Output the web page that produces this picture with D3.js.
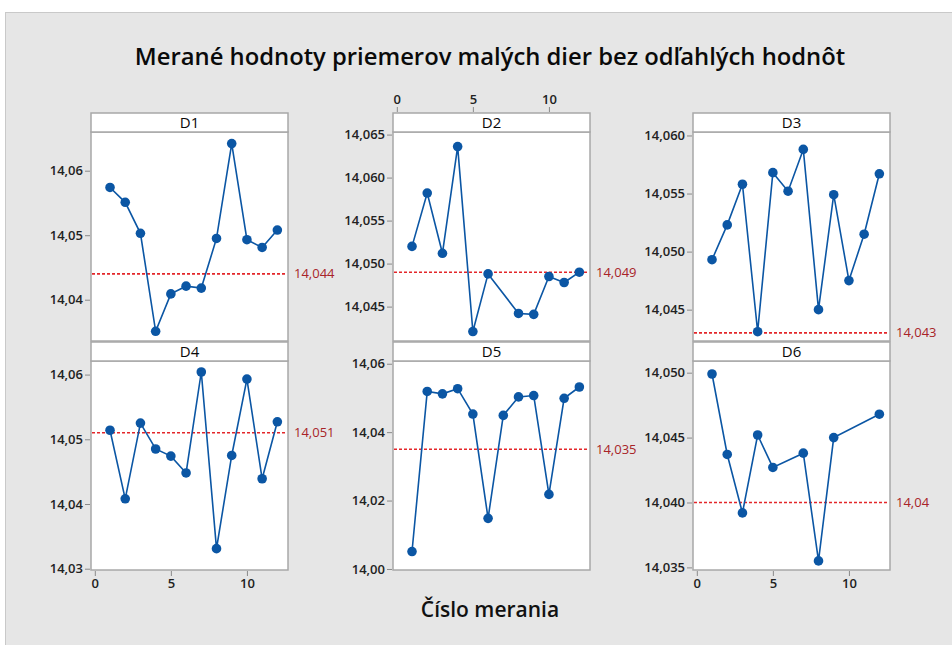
<!DOCTYPE html>
<html>
<head>
<meta charset="utf-8">
<script src="https://cdn.jsdelivr.net/npm/d3@7"></script>
<style>
  body { margin: 0; background: #fff; }
  svg { display: block; font-family: "Open Sans", "Noto Sans", sans-serif; }
</style>
</head>
<body>
<div id="chart"></div>
<script>
var panelNames = ["D1", "D2", "D3", "D4", "D5", "D6"];

var xD1 = [1, 2, 3, 4, 5, 6, 7, 8, 9, 10, 11, 12];
var yD1 = [14.0574, 14.0551, 14.0503, 14.0351, 14.0409, 14.0421, 14.0418, 14.0495, 14.0642, 14.0493, 14.0481, 14.0508];

var xD2 = [1, 2, 3, 4, 5, 6, 8, 9, 10, 11, 12];
var yD2 = [14.0520, 14.0582, 14.0512, 14.0636, 14.0421, 14.0488, 14.0442, 14.0441, 14.0485, 14.0478, 14.0490];

var xD3 = [1, 2, 3, 4, 5, 6, 7, 8, 9, 10, 11, 12];
var yD3 = [14.0493, 14.0523, 14.0558, 14.0431, 14.0568, 14.0552, 14.0588, 14.0450, 14.0549, 14.0475, 14.0515, 14.0567];

var xD4 = [1, 2, 3, 4, 5, 6, 7, 8, 9, 10, 11, 12];
var yD4 = [14.0514, 14.0408, 14.0525, 14.0485, 14.0474, 14.0448, 14.0604, 14.0331, 14.0475, 14.0593, 14.0439, 14.0527];

var xD5 = [1, 2, 3, 4, 5, 6, 7, 8, 9, 10, 11, 12];
var yD5 = [14.0051, 14.0519, 14.0512, 14.0527, 14.0453, 14.0148, 14.0449, 14.0503, 14.0507, 14.0218, 14.0499, 14.0532];

var xD6 = [1, 2, 3, 4, 5, 7, 8, 9, 12];
var yD6 = [14.0499, 14.0437, 14.0392, 14.0452, 14.0427, 14.0438, 14.0355, 14.0450, 14.0468];

// reference lines
var refValues = [14.044, 14.049, 14.043, 14.051, 14.035, 14.040];
var refLabels = ["14,044", "14,049", "14,043", "14,051", "14,035", "14,04"];

// axis ranges and ticks
var yDomains = [[14.0336, 14.0660], [14.0410, 14.0653], [14.0423, 14.0603],
                [14.0298, 14.0621], [13.9997, 14.0608], [14.0348, 14.0509]];
var yTicks = [[14.04, 14.05, 14.06],
              [14.045, 14.05, 14.055, 14.06, 14.065],
              [14.045, 14.05, 14.055, 14.06],
              [14.03, 14.04, 14.05, 14.06],
              [14.00, 14.02, 14.04, 14.06],
              [14.035, 14.04, 14.045, 14.05]];
var yDecimals = [2, 3, 3, 2, 2, 3];
var xDomain = [-0.25, 12.7];
var xTicks = [0, 5, 10];

var title = "Merané hodnoty priemerov malých dier bez odľahlých hodnôt";
var xTitle = "Číslo merania";

var xs = [xD1, xD2, xD3, xD4, xD5, xD6];
var ys = [yD1, yD2, yD3, yD4, yD5, yD6];

var W = 952, H = 645;
var colLeft = [91, 393, 693];
var panelW = 197;
var rowTop = [113, 342];      // top of strip header
var stripH = 19;
var plotH = 209;
var blue = "#0b56a4";

var svg = d3.select("#chart").append("svg")
  .attr("width", W).attr("height", H);

svg.append("rect")
  .attr("x", 5.5).attr("y", 12.5)
  .attr("width", W).attr("height", H)
  .attr("fill", "#e6e6e6").attr("stroke", "#c9c9c9");

svg.append("text")
  .attr("x", 490).attr("y", 65)
  .attr("text-anchor", "middle")
  .attr("font-size", 23.8).attr("font-weight", 600)
  .attr("fill", "#0a0a0a")
  .text(title);

svg.append("text")
  .attr("x", 490).attr("y", 617)
  .attr("text-anchor", "middle")
  .attr("font-size", 21).attr("font-weight", 600)
  .attr("fill", "#111")
  .text(xTitle);

function fmt(v, dec) {
  return v.toFixed(dec).replace(".", ",");
}

panelNames.forEach(function(name, i) {
  var col = i % 3, row = Math.floor(i / 3);
  var left = colLeft[col];
  var top = rowTop[row];
  var plotTop = top + stripH;

  var g = svg.append("g");

  var x = d3.scaleLinear().domain(xDomain).range([left, left + panelW]);
  var y = d3.scaleLinear().domain(yDomains[i]).range([plotTop + plotH, plotTop]);

  // plot area
  g.append("rect")
    .attr("x", left).attr("y", plotTop)
    .attr("width", panelW).attr("height", plotH)
    .attr("fill", "#fff").attr("stroke", "#a8a8a8").attr("stroke-width", 1.5);

  // strip header
  g.append("rect")
    .attr("x", left).attr("y", top)
    .attr("width", panelW).attr("height", stripH)
    .attr("fill", "#fff").attr("stroke", "#a8a8a8").attr("stroke-width", 1.5);
  g.append("text")
    .attr("x", left + panelW / 2).attr("y", top + 15)
    .attr("text-anchor", "middle")
    .attr("font-size", 15).attr("fill", "#0a0a0a")
    .text(name);

  // y axis
  var yAxis = d3.axisLeft(y).tickValues(yTicks[i]).tickSize(5).tickPadding(2)
    .tickFormat(function(d) { return fmt(d, yDecimals[i]); });
  var ya = g.append("g")
    .attr("transform", "translate(" + (left - 1) + ",0)")
    .call(yAxis);
  ya.select(".domain").remove();
  ya.selectAll("line").attr("stroke", "#8a8a8a");
  ya.selectAll("text").attr("font-size", 13).attr("fill", "#222")
    .attr("font-family", "Open Sans, sans-serif").attr("font-weight", 600);

  // x axis: bottom for D4 and D6, top for D2
  var xAxis = null, xPos = 0;
  if (i === 3 || i === 5) {
    xAxis = d3.axisBottom(x); xPos = plotTop + plotH + 1;
  } else if (i === 1) {
    xAxis = d3.axisTop(x); xPos = top - 1;
  }
  if (xAxis) {
    xAxis.tickValues(xTicks).tickSize(5).tickPadding(3);
    var xa = g.append("g")
      .attr("transform", "translate(0," + xPos + ")")
      .call(xAxis);
    xa.select(".domain").remove();
    xa.selectAll("line").attr("stroke", "#8a8a8a");
    xa.selectAll("text").attr("font-size", 13).attr("fill", "#222")
      .attr("font-family", "Open Sans, sans-serif").attr("font-weight", 600);
  }

  // reference line
  g.append("line")
    .attr("x1", left + 1).attr("x2", left + panelW - 1)
    .attr("y1", y(refValues[i])).attr("y2", y(refValues[i]))
    .attr("stroke", "#e3262a").attr("stroke-width", 1.6)
    .attr("stroke-dasharray", "3,2");
  g.append("text")
    .attr("x", left + panelW + 6).attr("y", y(refValues[i]) + 4.5)
    .attr("font-size", 13).attr("fill", "#a82428")
    .text(refLabels[i]);

  var pts = xs[i].map(function(v, k) { return [v, ys[i][k]]; });

  g.append("path")
    .datum(pts)
    .attr("fill", "none").attr("stroke", blue).attr("stroke-width", 1.6)
    .attr("d", d3.line().x(function(d) { return x(d[0]); }).y(function(d) { return y(d[1]); }));

  g.selectAll("circle.pt")
    .data(pts).enter().append("circle")
    .attr("class", "pt")
    .attr("cx", function(d) { return x(d[0]); })
    .attr("cy", function(d) { return y(d[1]); })
    .attr("r", 4.8)
    .attr("fill", blue);
});
</script>
</body>
</html>
